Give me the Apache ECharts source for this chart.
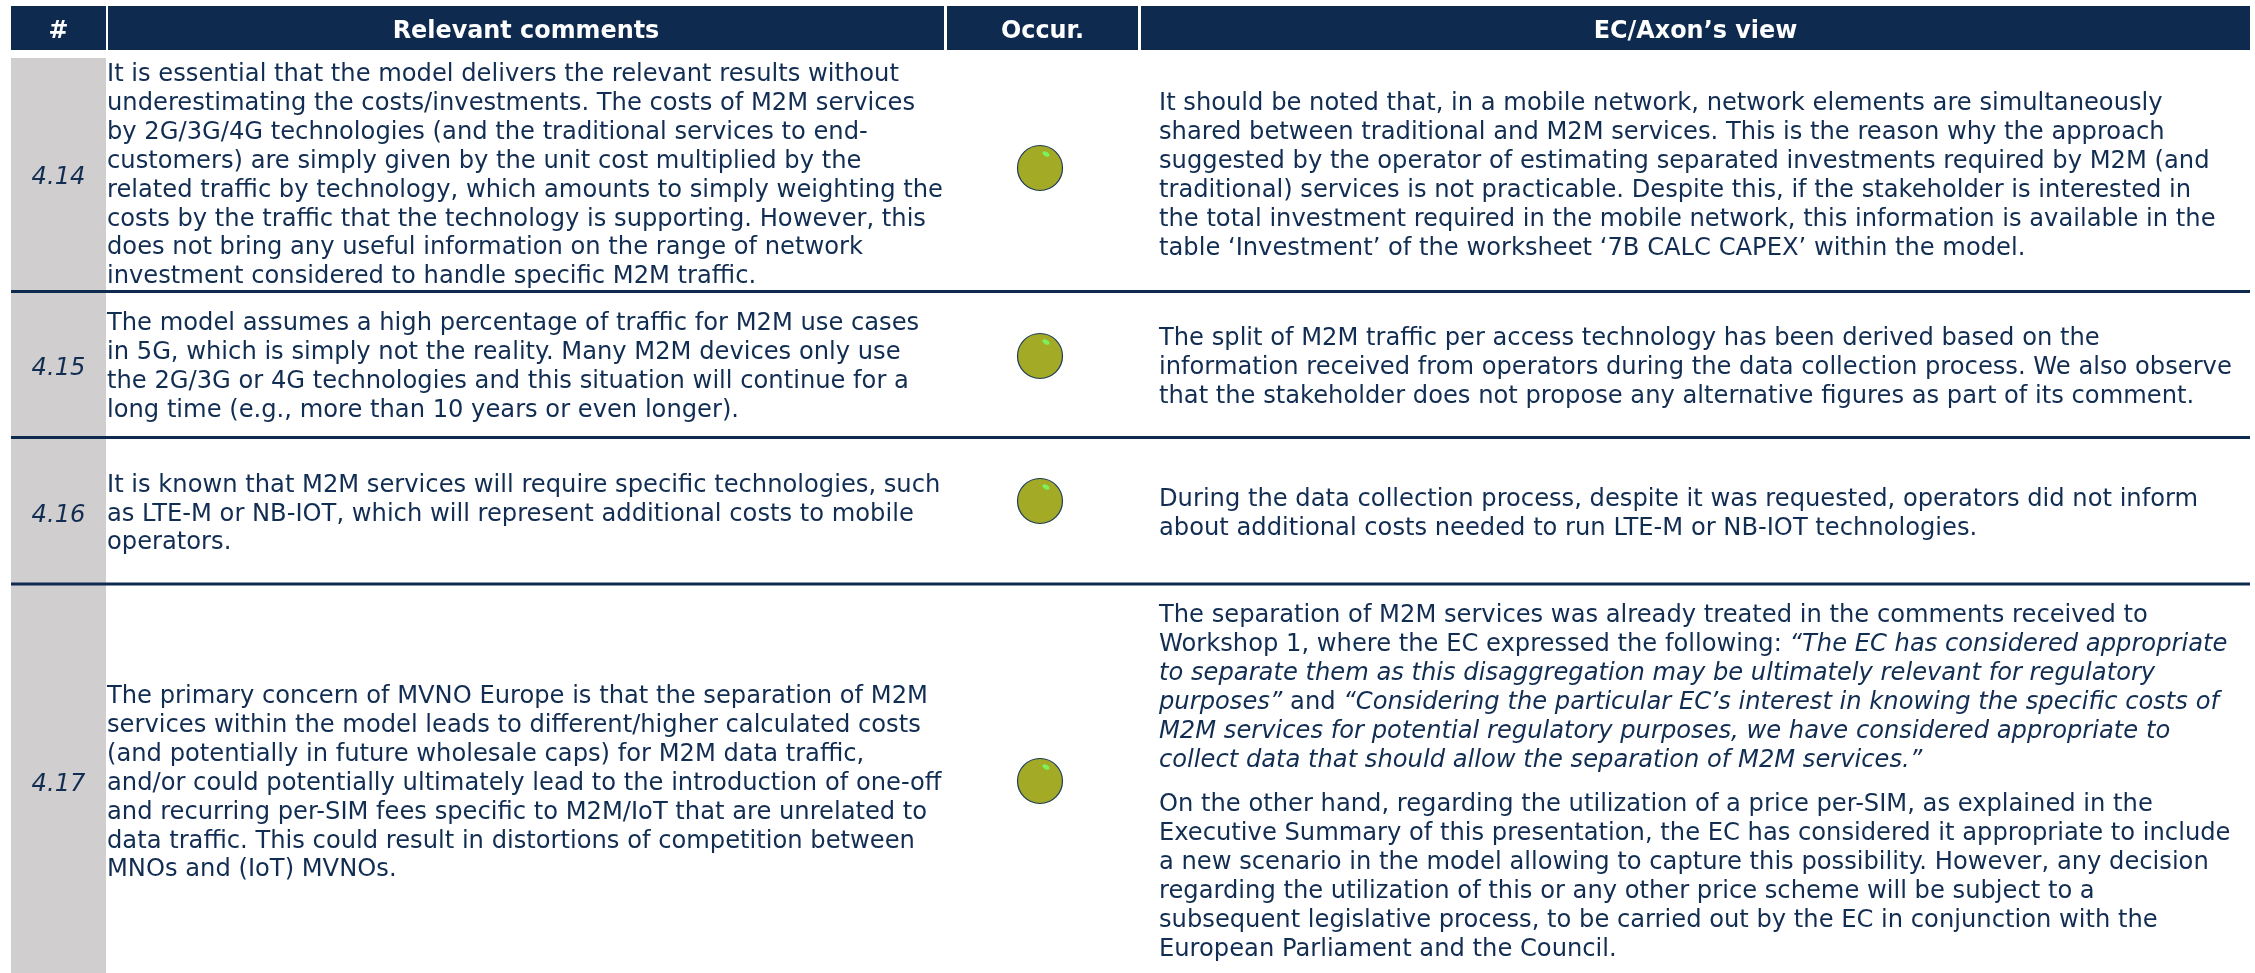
<!DOCTYPE html>
<html>
<head>
<meta charset="utf-8">
<title>Relevant comments</title>
<style>
  html, body { margin: 0; padding: 0; background: #fff; }
  #main { width: 2255px; height: 973px; }
</style>
<script src="https://cdn.jsdelivr.net/npm/echarts@6/dist/echarts.min.js"></script>
</head>
<body>
<div id="main"></div>
<script>
// table content
var headers = ["#", "Relevant comments", "Occur.", "EC/Axon’s view"];
var rowIds = ["4.14", "4.15", "4.16", "4.17"];
var occurrence = [1, 1, 1, 1];
var comments = [
  [
    "It is essential that the model delivers the relevant results without",
    "underestimating the costs/investments. The costs of M2M services",
    "by 2G/3G/4G technologies (and the traditional services to end-",
    "customers) are simply given by the unit cost multiplied by the",
    "related traffic by technology, which amounts to simply weighting the",
    "costs by the traffic that the technology is supporting. However, this",
    "does not bring any useful information on the range of network",
    "investment considered to handle specific M2M traffic."
  ],
  [
    "The model assumes a high percentage of traffic for M2M use cases",
    "in 5G, which is simply not the reality. Many M2M devices only use",
    "the 2G/3G or 4G technologies and this situation will continue for a",
    "long time (e.g., more than 10 years or even longer)."
  ],
  [
    "It is known that M2M services will require specific technologies, such",
    "as LTE-M or NB-IOT, which will represent additional costs to mobile",
    "operators."
  ],
  [
    "The primary concern of MVNO Europe is that the separation of M2M",
    "services within the model leads to different/higher calculated costs",
    "(and potentially in future wholesale caps) for M2M data traffic,",
    "and/or could potentially ultimately lead to the introduction of one-off",
    "and recurring per-SIM fees specific to M2M/IoT that are unrelated to",
    "data traffic. This could result in distortions of competition between",
    "MNOs and (IoT) MVNOs."
  ]
];
// {i|...} marks the italic quotes
var views = [
  [
    "It should be noted that, in a mobile network, network elements are simultaneously",
    "shared between traditional and M2M services. This is the reason why the approach",
    "suggested by the operator of estimating separated investments required by M2M (and",
    "traditional) services is not practicable. Despite this, if the stakeholder is interested in",
    "the total investment required in the mobile network, this information is available in the",
    "table ‘Investment’ of the worksheet ‘7B CALC CAPEX’ within the model."
  ],
  [
    "The split of M2M traffic per access technology has been derived based on the",
    "information received from operators during the data collection process. We also observe",
    "that the stakeholder does not propose any alternative figures as part of its comment."
  ],
  [
    "During the data collection process, despite it was requested, operators did not inform",
    "about additional costs needed to run LTE-M or NB-IOT technologies."
  ],
  [
    "The separation of M2M services was already treated in the comments received to",
    "Workshop 1, where the EC expressed the following: {i|“The EC has considered appropriate}",
    "{i|to separate them as this disaggregation may be ultimately relevant for regulatory}",
    "{i|purposes”} and {i|“Considering the particular EC’s interest in knowing the specific costs of}",
    "{i|M2M services for potential regulatory purposes, we have considered appropriate to}",
    "{i|collect data that should allow the separation of M2M services.”}"
  ],
  [
    "On the other hand, regarding the utilization of a price per-SIM, as explained in the",
    "Executive Summary of this presentation, the EC has considered it appropriate to include",
    "a new scenario in the model allowing to capture this possibility. However, any decision",
    "regarding the utilization of this or any other price scheme will be subject to a",
    "subsequent legislative process, to be carried out by the EC in conjunction with the",
    "European Parliament and the Council."
  ]
];

// layout, in page pixels
var W = 2255, H = 973;
var headerCols = [[11, 106], [108, 944], [947, 1138], [1141, 2250]];
var headerBand = [6, 50];
var idCol = [11, 106];
var rowEdges = [58, 291.5, 437.5, 584, 973];
var ruleY = [291.5, 437.5, 584];
var ruleX = [11, 2250];
var rowMid = [177.5, 368.5, 516, 784.5];
var dotX = 1040;
var dotY = [168, 356, 501, 781];
var commentX = 107, viewX = 1159;
var commentFirstY = [75, 324, 485.5, 697];
var viewFirstY = [104, 339, 500, 616, 805];
var lineStep = 28.85;

var ink = "#122d52";
var bodyFont = '"DejaVu Sans", Verdana, sans-serif';
var bodySize = 24.2;

var labels = [];
headers.forEach(function (h, i) {
  labels.push({ x: (headerCols[i][0] + headerCols[i][1]) / 2, y: 32, text: h, kind: "head" });
});
rowIds.forEach(function (id, i) {
  labels.push({ x: (idCol[0] + idCol[1]) / 2, y: rowMid[i], text: id, kind: "id" });
});
comments.forEach(function (lines, i) {
  lines.forEach(function (t, j) {
    labels.push({ x: commentX, y: commentFirstY[i] + j * lineStep, text: t, kind: "body" });
  });
});
views.forEach(function (lines, i) {
  lines.forEach(function (t, j) {
    labels.push({ x: viewX, y: viewFirstY[i] + j * lineStep, text: t, kind: "body" });
  });
});

function rectItem(api, x0, y0, x1, y1, color) {
  var a = api.coord([x0, y0]);
  var b = api.coord([x1, y1]);
  return {
    type: "rect",
    shape: { x: a[0], y: a[1], width: b[0] - a[0], height: b[1] - a[1] },
    style: { fill: color }
  };
}

var option = {
  backgroundColor: "#fff",
  animation: false,
  grid: { left: 0, right: 0, top: 0, bottom: 0 },
  xAxis: { type: "value", min: 0, max: W, show: false },
  yAxis: { type: "value", min: 0, max: H, inverse: true, show: false },
  series: [
    {
      // header cells
      type: "custom",
      silent: true,
      data: headerCols.map(function (c) { return [c[0], c[1]]; }),
      renderItem: function (params, api) {
        return rectItem(api, api.value(0), headerBand[0], api.value(1), headerBand[1], "#0f2a4f");
      }
    },
    {
      // grey id column
      type: "custom",
      silent: true,
      data: rowIds.map(function (id, i) { return [rowEdges[i], rowEdges[i + 1]]; }),
      renderItem: function (params, api) {
        return rectItem(api, idCol[0], api.value(0), idCol[1], api.value(1), "#d0cece");
      }
    },
    {
      // row rules
      type: "custom",
      silent: true,
      data: ruleY.map(function (y) { return [y]; }),
      renderItem: function (params, api) {
        var y = api.value(0);
        return rectItem(api, ruleX[0], y - 1.5, ruleX[1], y + 1.5, "#0f2a4f");
      }
    },
    {
      type: "scatter",
      silent: true,
      symbol: "circle",
      symbolSize: 45,
      itemStyle: { color: "#a2aa26", borderColor: "#1f3a5a", borderWidth: 1.2, opacity: 1 },
      data: occurrence.map(function (v, i) { return [dotX, dotY[i], v]; })
    },
    {
      // small highlight on each dot
      type: "custom",
      silent: true,
      z: 3,
      data: occurrence.map(function (v, i) { return [dotX + 6, dotY[i] - 14]; }),
      renderItem: function (params, api) {
        var p = api.coord([api.value(0), api.value(1)]);
        return {
          type: "ellipse",
          x: p[0],
          y: p[1],
          rotation: -0.55,
          shape: { cx: 0, cy: 0, rx: 4, ry: 2.2 },
          style: { fill: "#7cf05a" }
        };
      }
    },
    {
      type: "custom",
      silent: true,
      z: 4,
      data: labels.map(function (l) { return [l.x, l.y]; }),
      renderItem: function (params, api) {
        var l = labels[params.dataIndex];
        var p = api.coord([api.value(0), api.value(1)]);
        var style = {
          text: l.text,
          fill: ink,
          fontFamily: bodyFont,
          fontSize: bodySize,
          align: "left",
          verticalAlign: "middle"
        };
        if (l.kind === "head") {
          style.fill = "#fff";
          style.fontWeight = "bold";
          style.fontSize = 23.9;
          style.align = "center";
        } else if (l.kind === "id") {
          style.fontStyle = "italic";
          style.align = "center";
        } else {
          style.rich = {
            i: { fontFamily: bodyFont, fontSize: bodySize, fontStyle: "italic", fill: ink }
          };
        }
        return { type: "text", x: p[0], y: p[1], style: style };
      }
    }
  ]
};

var myChart = echarts.init(document.getElementById("main"));
myChart.setOption(option);
</script>
</body>
</html>
